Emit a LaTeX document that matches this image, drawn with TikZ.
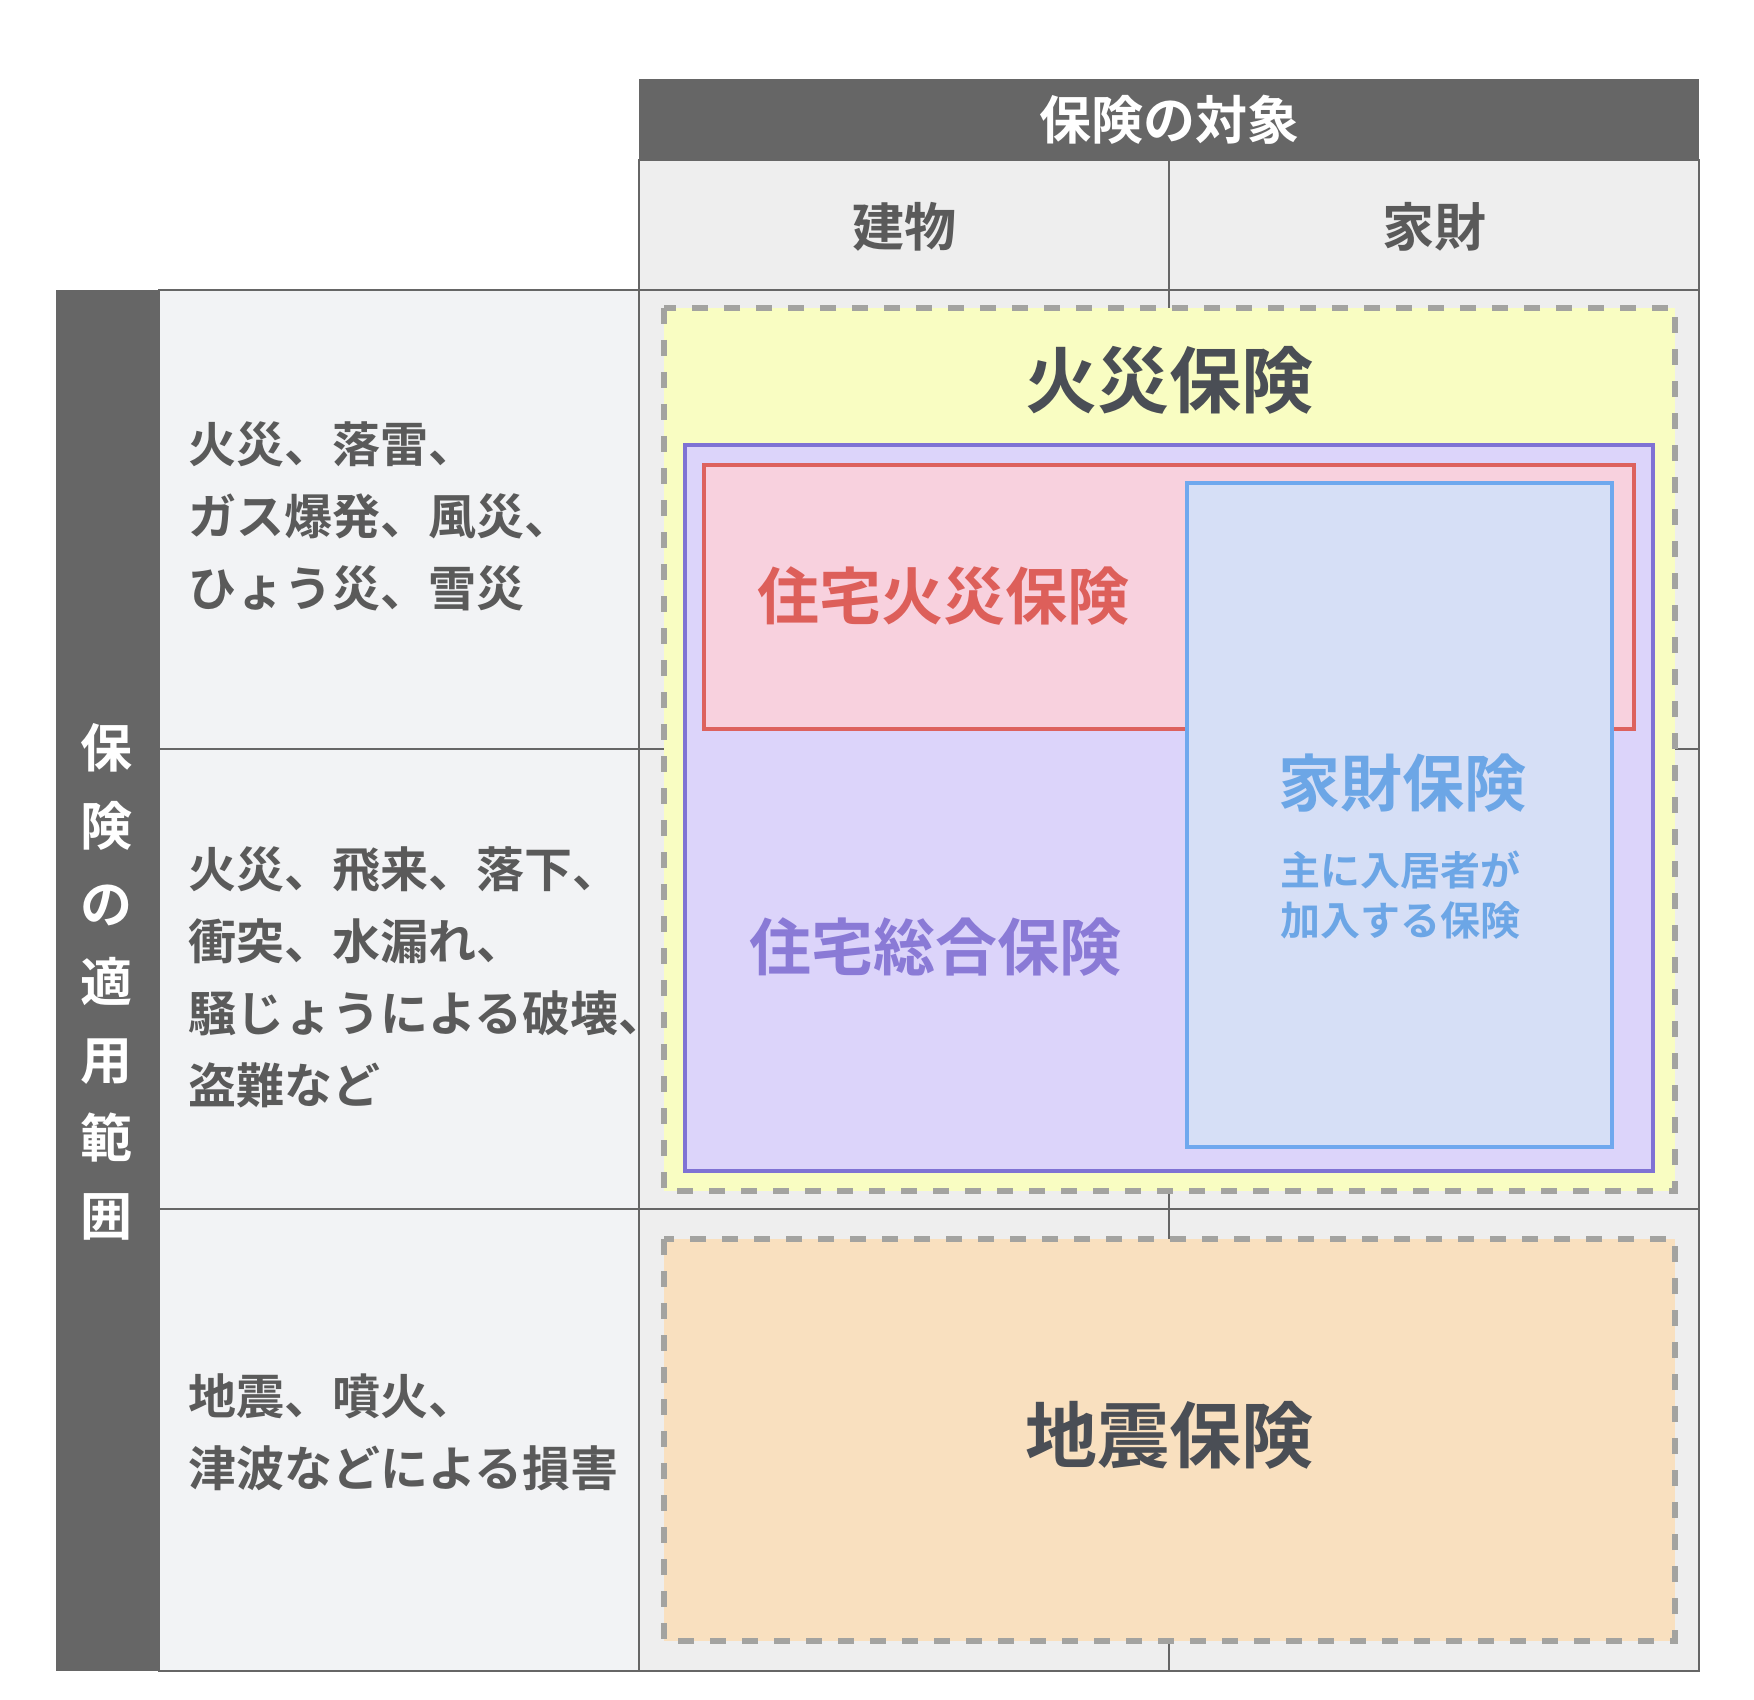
\documentclass[tikz,border=0pt]{standalone}
\usepackage{fontspec}
\setmainfont{Noto Sans CJK JP}[BoldFont={Noto Sans CJK JP Bold}]
\usetikzlibrary{positioning}
\definecolor{hdark}{HTML}{666666}
\definecolor{cellgray}{HTML}{EEEEEE}
\definecolor{rowgray}{HTML}{F2F3F5}
\definecolor{gridline}{HTML}{666666}
\definecolor{dashgray}{HTML}{A3A3A0}
\definecolor{yellowfill}{HTML}{F9FDC2}
\definecolor{purplefill}{HTML}{DCD4FA}
\definecolor{purpleline}{HTML}{7F72D4}
\definecolor{pinkfill}{HTML}{F8D1DE}
\definecolor{redline}{HTML}{DD625E}
\definecolor{bluefill}{HTML}{D6DFF6}
\definecolor{blueline}{HTML}{6FA8EE}
\definecolor{orangefill}{HTML}{F9E0BF}
\definecolor{darktext}{HTML}{4A4E55}
\definecolor{graytext}{HTML}{5A5A5A}
\definecolor{redtext}{HTML}{DD5F5A}
\definecolor{purpletext}{HTML}{8A7AD6}
\definecolor{bluetext}{HTML}{6CA6E6}
\tikzset{
  gridcell/.style={fill=cellgray, draw=gridline, line width=0.9pt},
  rowcell/.style={fill=rowgray, draw=gridline, line width=0.9pt},
  darkbar/.style={fill=hdark, draw=none},
  dashbox/.style={draw=dashgray, line width=3pt, dash pattern=on 8pt off 8pt},
  solidbox/.style={line width=1.8pt},
  rowtext/.style={anchor=west, align=left, inner sep=0pt, text=graytext, font=\bfseries\fontsize{24}{36}\selectfont},
  bigtitle/.style={inner sep=0pt, font=\bfseries\fontsize{36}{40}\selectfont},
  midtitle/.style={inner sep=0pt, font=\bfseries\fontsize{31}{36}\selectfont},
}
\begin{document}
\begin{tikzpicture}[x=0.5pt, y=-0.5pt]
\useasboundingbox (0,0) rectangle (1754,1700);
% header
\fill[darkbar] (639,79) rectangle (1699,160);
\node[inner sep=0pt, text=white, font=\bfseries\fontsize{26}{30}\selectfont] (target) at (1169,120) {保険の対象};
\draw[gridcell] (639,160) rectangle (1169,290);
\draw[gridcell] (1169,160) rectangle (1699,290);
\node[inner sep=0pt, text=graytext, font=\bfseries\fontsize{26}{30}\selectfont] (bldg) at (904,227) {建物};
\node[inner sep=0pt, text=graytext, font=\bfseries\fontsize{26}{30}\selectfont] (goods) at (1434,227) {家財};
% left bar
\fill[darkbar] (56,290) rectangle (159,1671);
\node[inner sep=0pt, text=white, align=center, font=\bfseries\fontsize{26}{39}\selectfont] (scope) at (106,982) {保\\険\\の\\適\\用\\範\\囲};
% row label cells
\draw[rowcell] (159,290) rectangle (639,749);
\draw[rowcell] (159,749) rectangle (639,1209);
\draw[rowcell] (159,1209) rectangle (639,1671);
\node[rowtext] (r1) at (188,516) {火災、落雷、\\ガス爆発、風災、\\ひょう災、雪災};
\node[rowtext] (r2) at (188,977) {火災、飛来、落下、\\衝突、水漏れ、\\騒じょうによる破壊、\\盗難など};
\node[rowtext] (r3) at (188,1432) {地震、噴火、\\津波などによる損害};
% matrix cells
\foreach \xa/\xb in {639/1169,1169/1699}{
  \foreach \ya/\yb in {290/749,749/1209,1209/1671}{
    \draw[gridcell] (\xa,\ya) rectangle (\xb,\yb);
  }
}
% fire insurance
\filldraw[dashbox, fill=yellowfill] (664,308) rectangle (1675,1191);
\node[bigtitle, text=darktext] (fire) at (1169,380) {火災保険};
\filldraw[solidbox, draw=purpleline, fill=purplefill] (685,445) rectangle (1653,1171);
\filldraw[solidbox, draw=redline, fill=pinkfill] (704,465) rectangle (1634,729);
\filldraw[solidbox, draw=blueline, fill=bluefill] (1187,483) rectangle (1612,1147);
\node[midtitle, text=redtext] (homefire) at (943,596) {住宅火災保険};
\node[midtitle, text=purpletext] (homeall) at (935,947) {住宅総合保険};
\node[midtitle, text=bluetext] (contents) at (1402,783) {家財保険};
\node[inner sep=0pt, align=center, text=bluetext, font=\bfseries\fontsize{20}{25}\selectfont] (tenant) at (1400,895) {主に入居者が\\加入する保険};
% earthquake
\filldraw[dashbox, fill=orangefill] (664,1239) rectangle (1675,1641);
\node[bigtitle, text=darktext] (quake) at (1169,1435) {地震保険};
\end{tikzpicture}
\end{document}
